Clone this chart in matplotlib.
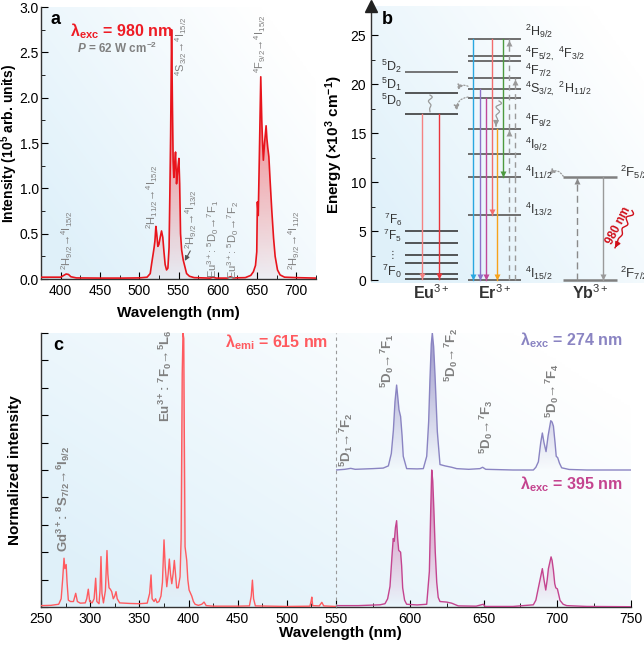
import numpy as np
import matplotlib
matplotlib.use("Agg")
import matplotlib.pyplot as plt
from matplotlib.colors import to_rgb
from matplotlib.ticker import MultipleLocator

plt.rcParams["font.family"] = ["Liberation Sans", "DejaVu Sans"]
plt.rcParams["mathtext.fontset"] = "custom"
plt.rcParams["mathtext.rm"] = "Liberation Sans"
plt.rcParams["mathtext.it"] = "Liberation Sans:italic:bold"
plt.rcParams["mathtext.bf"] = "Liberation Sans:bold"
plt.rcParams["xtick.direction"] = "in"
plt.rcParams["ytick.direction"] = "in"
plt.rcParams["axes.linewidth"] = 1.0
plt.rcParams["axes.edgecolor"] = "#333333"

# ---- panel a: upconversion emission under 980 nm (x1e5 arb. units)
a_wl = [375, 390, 400, 404, 407, 410, 413, 420, 450, 480, 500, 510, 514, 516, 517.8, 519, 520,
        521.2, 522.3, 523.7, 525, 526.5, 528.4, 530, 531.5, 533, 534.8, 536.5, 538, 539, 540,
        541.2, 542.3, 543.2, 544.1, 545, 546.2, 547, 547.5, 548.5, 549.5, 550.5, 551.5, 552.6,
        554, 556, 558, 560.3, 564, 570, 590, 594, 598, 612, 616, 620, 635, 642, 645.3, 648,
        649.6, 650.4, 651.5, 653, 654.7, 656, 657, 658, 659.5, 661.5, 662.5, 663.6, 665, 666.5,
        668.7, 671, 673, 676, 679.3, 685, 700, 725]
a_int = [0.02, 0.02, 0.02, 0.04, 0.055, 0.05, 0.025, 0.012, 0.01, 0.01, 0.012, 0.02, 0.06, 0.18,
         0.28, 0.35, 0.42, 0.58, 0.5, 0.36, 0.38, 0.45, 0.53, 0.46, 0.3, 0.16, 0.1, 0.12, 0.35,
         0.94, 1.6, 2.75, 1.9, 1.3, 1.12, 1.25, 1.4, 1.2, 1.05, 1.15, 1.25, 1.33, 1.05, 0.5,
         0.32, 0.21, 0.14, 0.06, 0.03, 0.015, 0.01, 0.02, 0.01, 0.01, 0.025, 0.012, 0.015, 0.04,
         0.08, 0.15, 0.3, 0.85, 0.7, 1.4, 2.23, 1.75, 1.5, 1.31, 1.5, 1.69, 1.55, 1.45, 1.35,
         1.1, 0.76, 0.45, 0.25, 0.1, 0.045, 0.02, 0.015, 0.01]

# ---- panel c: excitation (em. 615 nm), normalised
exc_wl = [250, 260, 268, 270.5, 272, 273.4, 274.3, 275.6, 276.5, 277.8, 280, 283, 285.3, 287, 290,
          295, 296.5, 298.1, 299.5, 302, 304, 305.6, 306.8, 309, 310, 311, 312, 313.5, 315.5,
          317.1, 318, 319.2, 320.5, 321.9, 323.5, 325, 326.3, 327.5, 330, 340, 350, 358, 360.5,
          361.9, 363, 365, 366.5, 368, 370, 372, 373.5, 375.1, 376.3, 377.9, 379.3, 380.5, 381.7,
          383, 384.3, 385.6, 386.8, 388, 389.5, 391.4, 392.5, 393.6, 394.4, 395.2, 395.8, 396.5,
          398.2, 399.3, 400.6, 403.3, 405, 406.7, 410, 413.5, 415.8, 418, 425, 450, 462, 463.8,
          465, 466.2, 468, 500, 523.5, 524.6, 525.4, 526.3, 533, 535.6, 537.5, 550]
exc_int = [0.005, 0.006, 0.01, 0.03, 0.1, 0.178, 0.14, 0.155, 0.09, 0.025, 0.02, 0.02, 0.05, 0.02,
           0.014, 0.015, 0.03, 0.065, 0.02, 0.015, 0.03, 0.105, 0.02, 0.012, 0.06, 0.184, 0.05,
           0.015, 0.06, 0.206, 0.12, 0.07, 0.065, 0.056, 0.03, 0.04, 0.056, 0.03, 0.015, 0.013,
           0.012, 0.014, 0.05, 0.117, 0.03, 0.02, 0.03, 0.016, 0.02, 0.04, 0.09, 0.245, 0.15,
           0.074, 0.12, 0.175, 0.12, 0.085, 0.12, 0.17, 0.12, 0.07, 0.07, 0.11, 0.25, 0.85, 1.0,
           0.98, 0.6, 0.22, 0.17, 0.1, 0.062, 0.04, 0.02, 0.01, 0.006, 0.01, 0.018, 0.005, 0.003,
           0.003, 0.004, 0.04, 0.098, 0.03, 0.004, 0.002, 0.003, 0.02, 0.036, 0.005, 0.004,
           0.017, 0.004, 0.002]

# emission under 274 nm, normalised to its own maximum
em274_wl = [550, 556, 560, 563, 575, 582, 585.5, 587.5, 588.9, 590, 591.1, 592, 592.7, 593.8,
            594.8, 595.6, 597.9, 605, 609.2, 611.5, 612.8, 613.7, 614.6, 615.3, 616.2, 617.1,
            618.7, 620.5, 623.9, 628.4, 631.8, 640, 647.6, 649.4, 651.5, 670, 683.8, 685.5, 687.2,
            688.8, 689.9, 691, 692.4, 693.8, 695.6, 696.5, 697.4, 698.5, 699.3, 700.3, 701.5, 703,
            708, 720, 750]
em274_int = [0.0, 0.005, 0.012, 0.005, 0.01, 0.014, 0.03, 0.12, 0.29, 0.5, 0.62, 0.52, 0.44, 0.39,
             0.25, 0.1, 0.01, 0.008, 0.01, 0.1, 0.35, 0.66, 0.92, 1.0, 0.9, 0.7, 0.28, 0.04, 0.03,
             0.02, 0.01, 0.005, 0.01, 0.02, 0.005, 0.0, 0.0, 0.02, 0.06, 0.2, 0.27, 0.2, 0.134,
             0.25, 0.36, 0.35, 0.32, 0.2, 0.1, 0.09, 0.05, 0.016, 0.004, 0.0, 0.0]

# emission under 395 nm, normalised to its own maximum
em395_wl = [550, 565, 579.8, 583.2, 585, 586.6, 588, 588.8, 589.5, 590.3, 591.1, 591.8, 592.5,
            593.8, 594.5, 595.2, 596.5, 597.9, 605, 611.5, 613.3, 614.2, 614.9, 615.6, 616.4,
            617.3, 618.3, 619.3, 620.5, 625, 628.4, 632.9, 645, 649.9, 651, 670, 683.8, 685.5,
            687.2, 689.9, 691, 692.2, 693.2, 694, 695.8, 696.5, 697.4, 698.3, 699, 700.1, 701,
            701.9, 704, 706.4, 720, 750]
em395_int = [0.01, 0.01, 0.016, 0.024, 0.06, 0.15, 0.38, 0.5, 0.48, 0.58, 0.63, 0.5, 0.414, 0.4,
             0.3, 0.14, 0.05, 0.02, 0.015, 0.02, 0.26, 0.7, 1.0, 0.92, 0.7, 0.4, 0.18, 0.07, 0.04,
             0.036, 0.028, 0.008, 0.006, 0.02, 0.004, 0.004, 0.016, 0.05, 0.14, 0.28, 0.2, 0.124,
             0.2, 0.28, 0.366, 0.34, 0.268, 0.17, 0.14, 0.132, 0.09, 0.048, 0.02, 0.01, 0.004,
             0.002]

# ---- panel b: energy levels (x10^3 cm^-1)
eu_levels = [21.3, 19.1, 17.0, 5.0, 3.8, 2.6, 1.7, 0.6, 0.1]
er_levels = [24.6, 22.9, 22.4, 20.6, 19.5, 18.6, 15.4, 12.9, 10.5, 6.6, 0.0]
yb_levels = [10.5, 0.0]

GRAY = "#808080"
SY = 9.8  # px per energy unit in panel b


def background(ax):
    xx, yy = np.meshgrid(np.linspace(0, 1, 200), np.linspace(0, 1, 200))
    t = np.clip(0.75 * xx + 0.55 * yy - 0.15, 0, 1)[..., None]
    c0 = np.array([0.878, 0.945, 0.980])
    img = c0 * (1 - t) + np.ones(3) * t
    ax.imshow(img, extent=[0, 1, 0, 1], transform=ax.transAxes, aspect="auto",
              origin="lower", zorder=0, interpolation="bilinear")


def grad_fill(ax, x, y, base, top, color, a0, a1):
    x = np.asarray(x, float)
    y = np.asarray(y, float)
    poly = ax.fill_between(x, base, y, facecolor="none", edgecolor="none")
    img = np.zeros((256, 1, 4))
    img[..., :3] = to_rgb(color)
    img[:, 0, 3] = np.linspace(a0, a1, 256)
    im = ax.imshow(img, aspect="auto", origin="lower", extent=[x.min(), x.max(), base, top],
                   zorder=1.5, interpolation="bilinear")
    im.set_clip_path(poly.get_paths()[0], transform=ax.transData)


def sym(m, L, j, bold=False):
    if bold:
        return rf"$^{{\mathbf{{{m}}}}}${L}$_{{\mathbf{{{j}}}}}$"
    return rf"$^{{{m}}}${L}$_{{{j}}}$"


def squiggle(ax, p0, p1, color, waves=3, amp=3.0, lw=0.9, head=True):
    x0, y0 = p0[0], p0[1] * SY
    x1, y1 = p1[0], p1[1] * SY
    t = np.linspace(0, 1, 200)
    dx, dy = x1 - x0, y1 - y0
    L = np.hypot(dx, dy)
    nx, ny = -dy / L, dx / L
    off = amp * np.sin(2 * np.pi * waves * t) * (1 - t)
    xs = x0 + dx * t + nx * off
    ys = (y0 + dy * t + ny * off) / SY
    ax.plot(xs, ys, color=color, lw=lw, zorder=3)
    if head:
        ax.annotate("", xy=(xs[-1], ys[-1]), xytext=(xs[-12], ys[-12]),
                    arrowprops=dict(arrowstyle="-|>", color=color, lw=lw,
                                    mutation_scale=8, shrinkA=0, shrinkB=0), zorder=3)


def vline(ax, x, y0, y1, color, ls="-", lw=1.0, head=True):
    ax.plot([x, x], [y0, y1], color=color, lw=lw, ls=ls, zorder=3)
    if head:
        up = y1 > y0
        ax.plot(x, y1 - 0.35 if up else y1 + 0.35, marker="^" if up else "v", ms=5,
                color=color, mec="none", zorder=4)


fig = plt.figure(figsize=(6.44, 6.47), dpi=100)

# ======================= panel a =======================
axa = fig.add_axes([41 / 644, 1 - 279 / 647, 275 / 644, 272 / 647])
background(axa)
grad_fill(axa, a_wl, a_int, 0, 2.75, "#e8141c", 0.04, 0.7)
axa.plot(a_wl, a_int, color="#e8141c", lw=1.2, zorder=3)
axa.set_xlim(375, 725)
axa.set_ylim(0, 3.0)
axa.xaxis.set_major_locator(MultipleLocator(50))
axa.xaxis.set_minor_locator(MultipleLocator(25))
axa.yaxis.set_major_locator(MultipleLocator(0.5))
axa.yaxis.set_minor_locator(MultipleLocator(0.25))
axa.yaxis.set_major_formatter(plt.FormatStrFormatter("%.1f"))
for s in ["top", "right"]:
    axa.spines[s].set_visible(False)
axa.tick_params(labelsize=10, length=5)
axa.tick_params(axis="y", pad=1.5)
axa.tick_params(which="minor", length=3)
axa.set_xlabel("Wavelength (nm)", fontsize=11, fontweight="bold", labelpad=6)
axa.set_ylabel(r"Intensity (10$^{\mathbf{5}}$ arb. units)", fontsize=10, fontweight="bold")
axa.yaxis.set_label_coords(-0.077, 0.5)
axa.text(0.035, 0.955, "a", transform=axa.transAxes, fontsize=13, fontweight="bold",
         va="center")
axa.text(412, 2.73, r"λ$_{\mathbf{exc}}$ = 980 nm", color="#ee1c25", fontsize=11.5,
         fontweight="bold", va="center")
axa.text(421, 2.54, r"$\mathit{P}$ = 62 W cm$^{\mathbf{-2}}$", color=GRAY, fontsize=8.5,
         fontweight="bold", va="center")
ta = dict(rotation=90, ha="center", va="bottom", fontsize=8, color=GRAY)
axa.text(408, 0.1, sym(2, "H", "9/2") + "→" + sym(4, "I", "15/2"), **ta)
axa.text(517, 0.55, sym(2, "H", "11/2") + "→" + sym(4, "I", "15/2"), **ta)
axa.text(553, 2.24, sym(4, "S", "3/2") + "→" + sym(4, "I", "15/2"), **ta)
axa.text(566, 0.33, sym(2, "H", "9/2") + "→" + sym(4, "I", "13/2"), **ta)
axa.text(594, 0.01, r"Eu$^{3+}$: " + sym(5, "D", "0") + "→" + sym(7, "F", "1"), **ta)
axa.text(619, 0.0, r"Eu$^{3+}$: " + sym(5, "D", "0") + "→" + sym(7, "F", "2"), **ta)
axa.text(654, 2.27, sym(4, "F", "9/2") + "→" + sym(4, "I", "15/2"), **ta)
axa.text(697, 0.1, sym(2, "H", "9/2") + "→" + sym(4, "I", "11/2"), **ta)
axa.annotate("", xy=(558, 0.2), xytext=(565, 0.31),
             arrowprops=dict(arrowstyle="-|>", color="#555555", lw=0.8, mutation_scale=7,
                             shrinkA=0, shrinkB=0))

# ======================= panel b =======================
axb = fig.add_axes([371 / 644, 1 - 283 / 647, 273 / 644, 277 / 647])
background(axb)
axb.set_xlim(0, 273)
axb.set_ylim(-0.3, 28)
for s in ["top", "right", "bottom"]:
    axb.spines[s].set_visible(False)
axb.spines["left"].set_bounds(0, 28)
axb.set_xticks([])
axb.yaxis.set_major_locator(MultipleLocator(5))
axb.yaxis.set_minor_locator(MultipleLocator(2.5))
axb.tick_params(labelsize=10, length=5)
axb.tick_params(which="minor", length=3)
axb.set_ylabel(r"Energy (×10$^{\mathbf{3}}$ cm$^{\mathbf{-1}}$)", fontsize=11,
               fontweight="bold", labelpad=4)
axb.plot(0, 28, marker="^", ms=8, color="#222222", transform=axb.get_yaxis_transform(),
         clip_on=False, zorder=5)
axb.text(11, 26.6, "b", fontsize=13, fontweight="bold", va="center")

axb.hlines(eu_levels[:1], 34, 87, color="#6a6a6a", lw=1.3, zorder=2)
axb.hlines(eu_levels[1:], 34, 87, color="#3a3a3a", lw=1.2, zorder=2)
axb.hlines(er_levels, 97, 150, color="#6e6e6e", lw=1.4, zorder=2)
axb.hlines(yb_levels, 192, 246, color="#808080", lw=1.8, zorder=2)

# Eu3+ emission
vline(axb, 51, 17.0, 0.1, "#f58282")
vline(axb, 68, 17.0, 0.1, "#e8353b")
# Er3+ emission
vline(axb, 102.3, 24.6, 0.0, "#2aa7e0")
vline(axb, 108.7, 19.5, 0.0, "#8c72c8")
vline(axb, 114.7, 18.6, 0.0, "#c0489a")
vline(axb, 120.7, 24.6, 6.6, "#f26d6d")
vline(axb, 126.3, 15.4, 0.0, "#f7a21b")
vline(axb, 132.3, 24.6, 10.5, "#4c9a3f")
# Er3+ excitation (dashed)
vline(axb, 138.3, 0.0, 15.4, "#9a9a9a", ls=(0, (4, 3)))
vline(axb, 138.3, 15.4, 24.6, "#9a9a9a", ls=(0, (4, 3)))
vline(axb, 144.3, 0.0, 10.5, "#9a9a9a", ls=(0, (4, 3)), head=False)
vline(axb, 144.3, 10.5, 20.6, "#9a9a9a", ls=(0, (4, 3)))
# Yb3+
vline(axb, 205.7, 0.0, 10.5, "#8a8a8a", ls=(0, (5, 3)))
vline(axb, 231.7, 10.5, 0.0, "#9a9a9a")

# non-radiative relaxations and energy transfer
squiggle(axb, (59, 18.9), (59, 17.2), "#9a9a9a", waves=2, amp=2.5, head=False)
squiggle(axb, (128, 18.3), (125, 15.7), "#9a9a9a", waves=3, amp=3.0)
dot = dict(arrowstyle="-|>", color="#9a9a9a", lw=0.9, ls=(0, (1, 1.5)), mutation_scale=8,
           shrinkA=0, shrinkB=0)
axb.annotate("", xy=(86.7, 19.4), xytext=(97, 19.8),
             arrowprops=dict(dot, connectionstyle="arc3,rad=0.5"))
axb.annotate("", xy=(85.7, 17.3), xytext=(97, 18.7),
             arrowprops=dict(dot, connectionstyle="arc3,rad=0.45"))
axb.annotate("", xy=(178.3, 10.8), xytext=(192.3, 10.6),
             arrowprops=dict(dot, connectionstyle="arc3,rad=0.6"))
squiggle(axb, (261, 7.1), (244, 3.3), "#d0101a", waves=3.5, amp=3.0, lw=1.0)
axb.text(247, 5.6, "980 nm", color="#d0101a", fontsize=8.5, fontweight="bold",
         rotation=63, ha="center", va="center")

tb = dict(fontsize=9, color="#333333", va="center")
axb.text(31, 21.8, sym(5, "D", "2"), ha="right", **tb)
axb.text(31, 20.0, sym(5, "D", "1"), ha="right", **tb)
axb.text(31, 18.4, sym(5, "D", "0"), ha="right", **tb)
axb.text(31, 6.2, sym(7, "F", "6"), ha="right", fontsize=8.5, color="#333333", va="center")
axb.text(31, 4.6, sym(7, "F", "5"), ha="right", fontsize=8.5, color="#333333", va="center")
axb.text(26, 2.6, "⋮", ha="right", fontsize=7, color="#333333", va="center")
axb.text(31, 0.85, sym(7, "F", "0"), ha="right", **tb)
er_labels = [(25.4, sym(2, "H", "9/2")),
             (23.1, sym(4, "F", "5/2,") + " " + sym(4, "F", "3/2")),
             (21.4, sym(4, "F", "7/2")),
             (19.5, sym(4, "S", "3/2,") + " " + sym(2, "H", "11/2")),
             (16.3, sym(4, "F", "9/2")),
             (13.9, sym(4, "I", "9/2")),
             (11.0, sym(4, "I", "11/2")),
             (7.2, sym(4, "I", "13/2")),
             (0.7, sym(4, "I", "15/2"))]
for y, s in er_labels:
    axb.text(154, y, s, ha="left", **tb)
axb.text(249, 11.0, sym(2, "F", "5/2"), ha="left", fontsize=9.5, color="#333333", va="center")
axb.text(249, 0.7, sym(2, "F", "7/2"), ha="left", fontsize=9.5, color="#333333", va="center")
for x, s in [(60.5, "Eu"), (123.5, "Er"), (219, "Yb")]:
    axb.text(x, -1.3, s + r"$^{3+}$", ha="center", va="center", fontsize=11.5,
             fontweight="bold", color="#333333")

# ======================= panel c =======================
cbg = fig.add_axes([41 / 644, 1 - 607 / 647, 590 / 644, 274 / 647])
background(cbg)
cbg.set_axis_off()
c1 = fig.add_axes([41 / 644, 1 - 607 / 647, 295 / 644, 274 / 647])
c2 = fig.add_axes([336 / 644, 1 - 607 / 647, 295 / 644, 274 / 647])
c1.patch.set_visible(False)
c2.patch.set_visible(False)

grad_fill(c1, exc_wl, exc_int, 0, 1.0, "#ff5a5f", 0.0, 0.45)
c1.plot(exc_wl, exc_int, color="#ff5a5f", lw=1.0, zorder=3)
em274_y = [0.5 + 0.5 * v for v in em274_int]
em395_y = [0.5 * v for v in em395_int]
grad_fill(c2, em274_wl, em274_y, 0.5, 1.0, "#7b74b8", 0.0, 0.75)
c2.plot(em274_wl, em274_y, color="#8a84c2", lw=1.0, zorder=3)
grad_fill(c2, em395_wl, em395_y, 0.0, 0.5, "#c23d8e", 0.0, 0.7)
c2.plot(em395_wl, em395_y, color="#c4448f", lw=1.0, zorder=3)

c1.set_xlim(250, 550)
c2.set_xlim(550, 750)
for ax in (c1, c2):
    ax.set_ylim(0, 1.0)
    ax.spines["top"].set_visible(False)
    ax.spines["right"].set_visible(False)
    ax.tick_params(labelsize=10, length=5)
    ax.tick_params(which="minor", length=3)
c1.xaxis.set_major_locator(MultipleLocator(50))
c1.xaxis.set_minor_locator(MultipleLocator(25))
c1.yaxis.set_major_locator(MultipleLocator(0.1))
c1.set_yticklabels([])
c2.set_xticks([600, 650, 700, 750])
c2.set_xticks([575, 625, 675, 725], minor=True)
c2.spines["left"].set_visible(False)
c2.set_yticks([])
c2.axvline(550, color="#999999", lw=0.8, ls=(0, (3, 3)), zorder=4, clip_on=False)
c1.set_ylabel("Normalized intensity", fontsize=11, fontweight="bold", labelpad=10)
fig.text(340 / 644, 1 - 633 / 647, "Wavelength (nm)", fontsize=11, fontweight="bold",
         ha="center", va="center")

c1.text(0.04, 0.955, "c", transform=c1.transAxes, fontsize=13, fontweight="bold",
        va="center")
c1.text(0.975, 0.967, r"λ$_{\mathbf{emi}}$ = 615 nm", transform=c1.transAxes,
        color="#ff5a5f", fontsize=11.5, fontweight="bold", ha="right", va="center")
c2.text(0.97, 0.975, r"λ$_{\mathbf{exc}}$ = 274 nm", transform=c2.transAxes,
        color="#8a84c2", fontsize=11.5, fontweight="bold", ha="right", va="center")
c2.text(0.97, 0.45, r"λ$_{\mathbf{exc}}$ = 395 nm", transform=c2.transAxes,
        color="#c4448f", fontsize=11.5, fontweight="bold", ha="right", va="center")
tc = dict(rotation=90, ha="center", va="bottom", fontsize=9.5, color=GRAY, fontweight="bold")
c1.text(272.5, 0.2, r"Gd$^{\mathbf{3+}}$: " + sym(8, "S", "7/2", True) + "→"
        + sym(6, "I", "9/2", True), **tc)
c1.text(376, 0.675, r"Eu$^{\mathbf{3+}}$: " + sym(7, "F", "0", True) + "→"
        + sym(5, "L", "6", True), **tc)
c2.text(557, 0.51, sym(5, "D", "1", True) + "→" + sym(7, "F", "2", True), **tc)
c2.text(585, 0.8, sym(5, "D", "0", True) + "→" + sym(7, "F", "1", True), **tc)
c2.text(628, 0.82, sym(5, "D", "0", True) + "→" + sym(7, "F", "2", True), **tc)
c2.text(652, 0.56, sym(5, "D", "0", True) + "→" + sym(7, "F", "3", True), **tc)
c2.text(697, 0.69, sym(5, "D", "0", True) + "→" + sym(7, "F", "4", True), **tc)

fig.savefig("out.png", dpi=100)
